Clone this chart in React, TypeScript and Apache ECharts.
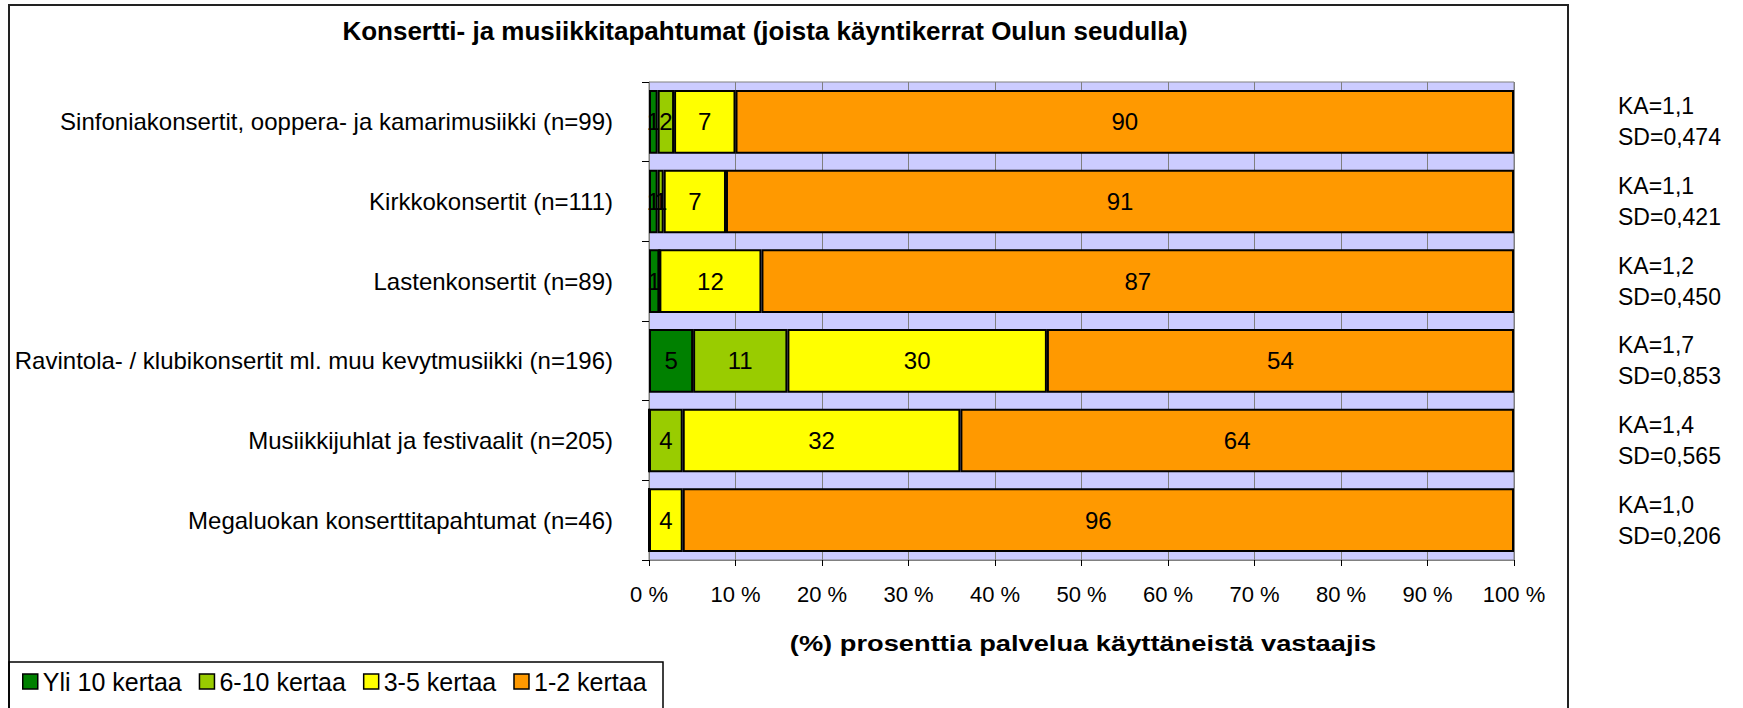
import React, { useEffect, useRef } from "react";
import * as echarts from "echarts";

const categories = [
  "Sinfoniakonsertit, ooppera- ja kamarimusiikki (n=99)",
  "Kirkkokonsertit (n=111)",
  "Lastenkonsertit (n=89)",
  "Ravintola- / klubikonsertit ml. muu kevytmusiikki (n=196)",
  "Musiikkijuhlat ja festivaalit (n=205)",
  "Megaluokan konserttitapahtumat (n=46)",
];
const seriesNames = ["Yli 10 kertaa", "6-10 kertaa", "3-5 kertaa", "1-2 kertaa"];
const yli10 = [1.0, 1.0, 1.2, 5.1, 0, 0];
const kerta6to10 = [1.9, 0.7, 0, 10.9, 3.9, 0];
const kerta3to5 = [7.1, 7.2, 11.8, 30.0, 32.1, 3.9];
const kerta1to2 = [90.0, 91.1, 87.0, 54.0, 64.0, 96.1];
const kaValues = ["1,1", "1,1", "1,2", "1,7", "1,4", "1,0"];
const sdValues = ["0,474", "0,421", "0,450", "0,853", "0,565", "0,206"];
const xTicks = [0, 10, 20, 30, 40, 50, 60, 70, 80, 90, 100];

const titleText = "Konsertti- ja musiikkitapahtumat (joista käyntikerrat Oulun seudulla)";
const axisTitle = "(%) prosenttia palvelua käyttäneistä vastaajis";
const colors = ["#008000", "#99CC00", "#FFFF00", "#FF9900"];
const FONT = 'Arial, "Liberation Sans", sans-serif';

export default function App() {
  const ref = useRef<HTMLDivElement>(null);
  useEffect(() => {
    if (!ref.current) return;
    const chart = echarts.init(ref.current, null, { renderer: "svg" });
    const data = [yli10, kerta6to10, kerta3to5, kerta1to2];
    const option: any = {
      animation: false,
      backgroundColor: "#ffffff",
      textStyle: { fontFamily: FONT },
      graphic: [
        {
          type: "rect",
          shape: { x: 9, y: 5, width: 1559, height: 720 },
          style: { fill: "none", stroke: "#222", lineWidth: 2 },
          silent: true,
        },
        {
          type: "rect",
          shape: { x: 9, y: 662, width: 654, height: 60 },
          style: { fill: "none", stroke: "#000", lineWidth: 1.5 },
          silent: true,
        },
        {
          type: "text",
          x: 765,
          y: 31,
          style: {
            text: titleText,
            align: "center",
            verticalAlign: "middle",
            fontSize: 26,
            fontWeight: "bold",
            fontFamily: FONT,
            fill: "#000",
          },
        },
        {
          type: "text",
          x: 1083,
          y: 643,
          scaleX: 1.24,
          style: {
            text: axisTitle,
            align: "center",
            verticalAlign: "middle",
            fontSize: 22,
            fontWeight: "bold",
            fontFamily: FONT,
            fill: "#000",
          },
        },
      ],
      legend: {
        data: seriesNames,
        left: 17,
        top: 664,
        itemWidth: 15,
        itemHeight: 15,
        itemGap: 17,
        icon: "rect",
        itemStyle: { borderColor: "#000", borderWidth: 1.5 },
        textStyle: { fontSize: 25, color: "#000", fontFamily: FONT },
      },
      grid: {
        left: 649,
        right: 229,
        top: 82,
        bottom: 148,
        show: true,
        backgroundColor: "#CCCCFF",
        borderColor: "#808080",
        borderWidth: 1,
      },
      xAxis: {
        type: "value",
        min: 0,
        max: 100,
        interval: 10,
        axisLine: { show: true, lineStyle: { color: "#808080" } },
        axisTick: { show: true, length: 6, lineStyle: { color: "#000" } },
        splitLine: { show: true, lineStyle: { color: "#808080", width: 1 } },
        axisLabel: {
          margin: 23,
          fontSize: 22,
          color: "#000",
          fontFamily: FONT,
          formatter: (v: number) => (xTicks.includes(v) ? `${v} %` : ""),
        },
      },
      yAxis: [
        {
          type: "category",
          data: categories,
          inverse: true,
          axisLine: { show: true, lineStyle: { color: "#808080" } },
          axisTick: { show: true, length: 7, lineStyle: { color: "#000" } },
          axisLabel: { margin: 36, fontSize: 24, color: "#000", fontFamily: FONT },
        },
        {
          type: "category",
          data: categories,
          inverse: true,
          position: "right",
          axisLine: { show: false },
          axisTick: { show: false },
          axisLabel: {
            margin: 104,
            fontSize: 23,
            lineHeight: 31,
            align: "left",
            color: "#000",
            fontFamily: FONT,
            formatter: (_v: string, i: number) => `KA=${kaValues[i]}\nSD=${sdValues[i]}`,
          },
        },
      ],
      series: seriesNames.map((name, s) => ({
        name,
        type: "bar",
        stack: "total",
        yAxisIndex: 0,
        barCategoryGap: "20%",
        itemStyle: { color: colors[s], borderColor: "#000", borderWidth: 2 },
        label: {
          show: true,
          position: "inside",
          fontSize: 24,
          color: "#000",
          fontFamily: FONT,
          formatter: (p: any) => (p.value > 0 ? String(Math.round(p.value)) : ""),
        },
        data: data[s],
      })),
    };
    chart.setOption(option);
    return () => chart.dispose();
  }, []);
  return (
    <div
      ref={ref}
      style={{ position: "absolute", left: 0, top: 0, width: 1743, height: 708 }}
    />
  );
}
